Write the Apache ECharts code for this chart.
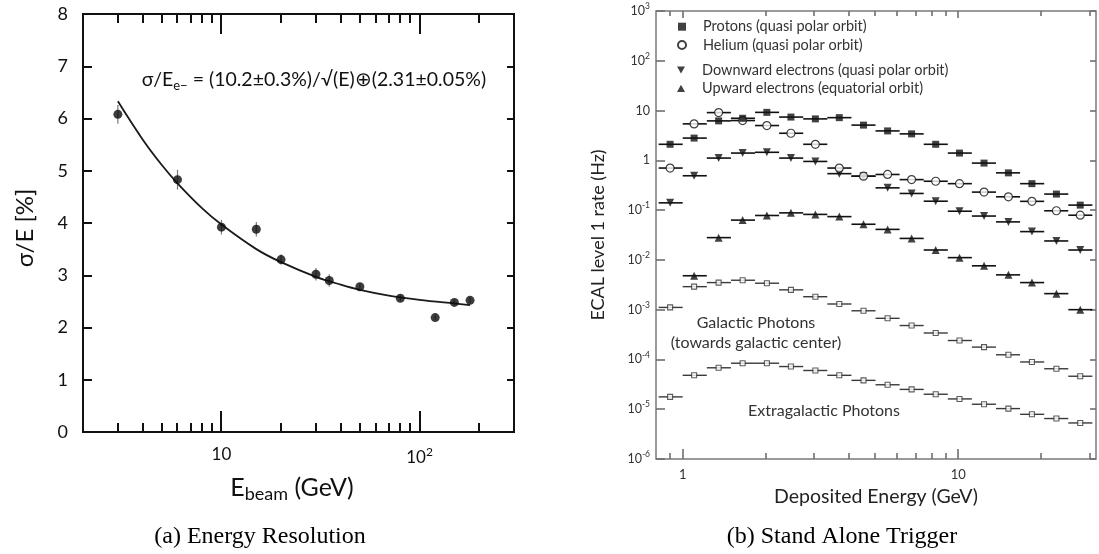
<!DOCTYPE html>
<html>
<head>
<meta charset="utf-8">
<script src="https://cdn.jsdelivr.net/npm/echarts@6/dist/echarts.min.js"></script>
<style>
  html, body { margin: 0; padding: 0; background: #fff; }
  #chart { width: 1099px; height: 554px; }
</style>
</head>
<body>
<div id="chart"></div>
<script>
// ---------- (a) Energy resolution ----------
const beamEnergy     = [3, 6, 10, 15, 20, 30, 35, 50, 80, 120, 150, 180];          // GeV
const resolution     = [6.08, 4.83, 3.92, 3.88, 3.30, 3.02, 2.90, 2.78, 2.56, 2.19, 2.48, 2.52]; // %
const resolutionErr  = [0.18, 0.19, 0.14, 0.14, 0.10, 0.12, 0.12, 0.06, 0.06, 0.05, 0.06, 0.06];
const fitEnergy      = [3, 4, 5, 6, 8, 10, 15, 20, 30, 40, 50, 70, 100, 150, 180];
const fitResolution  = [6.33, 5.60, 5.11, 4.76, 4.28, 3.97, 3.50, 3.25, 2.97, 2.82, 2.72, 2.61, 2.53, 2.46, 2.43];
const resMajorTicks  = [10, 100];
const resMinorTicks  = [3, 4, 5, 6, 7, 8, 9, 20, 30, 40, 50, 60, 70, 80, 90, 200];

// ---------- (b) Stand alone trigger ----------
const binEdges   = [0.818, 1.0, 1.223, 1.496, 1.83, 2.238, 2.737, 3.348, 4.095, 5.008, 6.125, 7.49, 9.16, 11.2, 13.7, 16.76, 20.5, 25.07, 30.66];
const binCenters = [0.9, 1.1, 1.35, 1.65, 2.02, 2.47, 3.03, 3.7, 4.53, 5.54, 6.77, 8.28, 10.1, 12.4, 15.2, 18.5, 22.7, 27.7];
const protons    = [2.1, 2.8, 6.2, 7.0, 9.2, 7.4, 6.8, 7.2, 5.1, 3.9, 3.4, 2.1, 1.4, 0.88, 0.56, 0.34, 0.21, 0.126];
const helium     = [0.70, 5.4, 9.1, 6.3, 5.0, 3.5, 2.1, 0.70, 0.48, 0.52, 0.41, 0.38, 0.34, 0.23, 0.185, 0.15, 0.097, 0.079];
const downElectrons = [0.14, 0.49, 1.11, 1.4, 1.45, 1.11, 0.95, 0.54, 0.48, 0.28, 0.216, 0.151, 0.095, 0.076, 0.058, 0.037, 0.024, 0.0158];
const upElectrons   = [null, 0.0048, 0.028, 0.063, 0.078, 0.088, 0.082, 0.074, 0.052, 0.041, 0.027, 0.0158, 0.0111, 0.0076, 0.005, 0.0035, 0.0021, 0.001];
const galacticPhotons = [1.11e-3, 2.9e-3, 3.5e-3, 3.9e-3, 3.4e-3, 2.5e-3, 1.82e-3, 1.3e-3, 9.5e-4, 6.7e-4, 4.8e-4, 3.4e-4, 2.4e-4, 1.77e-4, 1.24e-4, 8.9e-5, 6.5e-5, 4.6e-5];
const extragalacticPhotons = [1.77e-5, 4.8e-5, 6.8e-5, 8.4e-5, 8.4e-5, 7.2e-5, 6.0e-5, 4.8e-5, 3.8e-5, 3.1e-5, 2.5e-5, 2.0e-5, 1.61e-5, 1.26e-5, 1.03e-5, 7.9e-6, 6.5e-6, 5.3e-6];
const trigMajorTicks = [1, 10];
const trigMinorTicks = [0.9, 2, 3, 4, 5, 6, 7, 8, 9, 20, 30];

const NAME_P = 'Protons (quasi polar orbit)';
const NAME_HE = 'Helium (quasi polar orbit)';
const NAME_DOWN = 'Downward electrons (quasi polar orbit)';
const NAME_UP = 'Upward electrons (equatorial orbit)';

const SANS = 'Lato, "Noto Sans", sans-serif';
const SERIF = '"Liberation Serif", "DejaVu Serif", serif';
const DOWN_TRIANGLE = 'path://M0,0 L10,0 L5,9 Z';
const UP_TRIANGLE = 'path://M5,0 L10,9 L0,9 Z';

function isDecade(v) {
  const l = Math.log10(v);
  return Math.abs(l - Math.round(l)) < 1e-6;
}

// horizontal bin-width bars
function binBarSeries(values, color, width) {
  const rows = [];
  values.forEach((v, i) => { if (v != null) rows.push([binCenters[i], v, binEdges[i], binEdges[i + 1]]); });
  return {
    type: 'custom', xAxisIndex: 1, yAxisIndex: 2, silent: true, z: 3,
    data: rows, encode: { x: 0, y: 1 },
    renderItem(params, api) {
      const y = api.value(1);
      const a = api.coord([api.value(2), y]);
      const b = api.coord([api.value(3), y]);
      return { type: 'line', shape: { x1: a[0], y1: a[1], x2: b[0], y2: b[1] }, style: { stroke: color, lineWidth: width } };
    }
  };
}

function points(values) {
  const out = [];
  values.forEach((v, i) => { if (v != null) out.push([binCenters[i], v]); });
  return out;
}

const supRich = (base, sup, color) => ({
  b: { fontSize: base, fontFamily: SANS, color: color },
  s: { fontSize: sup, fontFamily: SANS, color: color, padding: [0, 0, Math.round(base * 0.7), 0] }
});

const legendCommon = {
  orient: 'vertical', left: 677, padding: 0,
  itemWidth: 8, itemHeight: 8, itemGap: 2.3, selectedMode: false,
  textStyle: { fontSize: 14.5, lineHeight: 16, color: '#333', fontFamily: SANS, padding: [0, 0, 0, 12] }
};

const textGraphics = [
  // (a) formula and axis titles
  { type: 'text', x: 314, y: 80, silent: true, style: {
      text: '{n|σ/E}{sub|e−}{n| = (10.2±0.3%)/√(E)⊕(2.31±0.05%)}',
      align: 'center', verticalAlign: 'middle',
      rich: {
        n: { fontSize: 19.5, fontFamily: SANS, fill: '#111', color: '#111' },
        sub: { fontSize: 13, fontFamily: SANS, fill: '#111', color: '#111', padding: [11, 0, 0, 0] }
      } } },
  { type: 'text', x: 25, y: 228, rotation: Math.PI / 2, silent: true, style: {
      text: 'σ/E [%]', fontSize: 24, fontFamily: SANS, fill: '#111', align: 'center', verticalAlign: 'middle' } },
  { type: 'text', x: 292, y: 488, silent: true, style: {
      text: '{a|E}{s|beam}{a| (GeV)}', align: 'center', verticalAlign: 'middle',
      rich: {
        a: { fontSize: 25, fontFamily: SANS, fill: '#111', color: '#111' },
        s: { fontSize: 18, fontFamily: SANS, fill: '#111', color: '#111', padding: [13, 0, 0, 0] }
      } } },
  { type: 'text', x: 260, y: 537, silent: true, style: {
      text: '(a) Energy Resolution', fontSize: 24, fontFamily: SERIF, fill: '#000', align: 'center', verticalAlign: 'middle' } },

  // (b) annotations and axis titles
  { type: 'text', x: 756, y: 323, silent: true, style: {
      text: 'Galactic Photons', fontSize: 16, fontFamily: SANS, fill: '#333', align: 'center', verticalAlign: 'middle' } },
  { type: 'text', x: 756, y: 343, silent: true, style: {
      text: '(towards galactic center)', fontSize: 16, fontFamily: SANS, fill: '#333', align: 'center', verticalAlign: 'middle' } },
  { type: 'text', x: 824, y: 411, silent: true, style: {
      text: 'Extragalactic Photons', fontSize: 16, fontFamily: SANS, fill: '#333', align: 'center', verticalAlign: 'middle' } },
  { type: 'text', x: 598, y: 235, rotation: Math.PI / 2, silent: true, style: {
      text: 'ECAL level 1 rate (Hz)', fontSize: 18, fontFamily: SANS, fill: '#222', align: 'center', verticalAlign: 'middle' } },
  { type: 'text', x: 876, y: 497, silent: true, style: {
      text: 'Deposited Energy (GeV)', fontSize: 19.5, fontFamily: SANS, fill: '#222', align: 'center', verticalAlign: 'middle' } },
  { type: 'text', x: 842, y: 537, silent: true, style: {
      text: '(b) Stand Alone Trigger', fontSize: 24, fontFamily: SERIF, fill: '#000', align: 'center', verticalAlign: 'middle' } }
];

const option = {
  backgroundColor: '#ffffff',
  animation: false,
  grid: [
    { left: 83, top: 14, width: 431, height: 418, show: true, borderColor: '#111', borderWidth: 2,
      backgroundColor: 'transparent', containLabel: false, outerBoundsMode: 'none' },
    { left: 656, top: 11, width: 440, height: 448, show: true, borderColor: '#7a7a7a', borderWidth: 1.5,
      backgroundColor: 'transparent', containLabel: false, outerBoundsMode: 'none' }
  ],
  xAxis: [
    { gridIndex: 0, type: 'log', logBase: 10, min: 2, max: 300,
      axisLine: { show: false }, axisTick: { show: false }, minorTick: { show: false }, splitLine: { show: false },
      axisLabel: {
        margin: 14, color: '#111', fontSize: 17, fontFamily: SANS,
        formatter: v => {
          if (!isDecade(v)) return '';
          const e = Math.round(Math.log10(v));
          return e === 1 ? '{b|10}' : '{b|10}{s|' + e + '}';
        },
        rich: supRich(17, 12, '#111')
      } },
    { gridIndex: 1, type: 'log', logBase: 10, min: 0.8, max: 31.6,
      axisLine: { show: false }, axisTick: { show: false }, minorTick: { show: false }, splitLine: { show: false },
      axisLabel: {
        margin: 9, color: '#333', fontSize: 13, fontFamily: SANS,
        formatter: v => {
          if (!isDecade(v)) return '';
          const e = Math.round(Math.log10(v));
          return e === 0 ? '1' : (e === 1 ? '10' : '10^' + e);
        }
      } }
  ],
  yAxis: [
    { gridIndex: 0, type: 'value', min: 0, max: 8, interval: 1,
      axisLine: { show: false }, splitLine: { show: false },
      axisTick: { show: true, inside: true, length: 9, lineStyle: { color: '#111', width: 2 } },
      axisLabel: { margin: 15, color: '#111', fontSize: 18, fontFamily: SANS } },
    { gridIndex: 0, type: 'value', position: 'right', min: 0, max: 8, interval: 1,
      axisLine: { show: false }, splitLine: { show: false }, axisLabel: { show: false },
      axisTick: { show: true, inside: true, length: 7, lineStyle: { color: '#111', width: 2 } } },
    { gridIndex: 1, type: 'log', logBase: 10, min: 1e-6, max: 1e3, splitNumber: 9,
      axisLine: { show: false }, splitLine: { show: false },
      axisTick: { show: true, inside: true, length: 9, lineStyle: { color: '#6e6e6e', width: 1.6 } },
      axisLabel: {
        margin: 6, color: '#333', fontSize: 12, fontFamily: SANS,
        formatter: v => {
          if (!isDecade(v)) return '';
          const e = Math.round(Math.log10(v));
          if (e === 0) return '{b|1}';
          if (e === 1) return '{b|10}';
          return '{b|10}{s|' + (e < 0 ? '-' + (-e) : e) + '}';
        },
        rich: supRich(12.5, 8.5, '#333')
      } },
    { gridIndex: 1, type: 'log', logBase: 10, min: 1e-6, max: 1e3, splitNumber: 9, position: 'right',
      axisLine: { show: false }, splitLine: { show: false }, axisLabel: { show: false },
      axisTick: { show: true, inside: true, length: 6, lineStyle: { color: '#6e6e6e', width: 1.6 } } }
  ],
  legend: [
    Object.assign({}, legendCommon, { top: 18.7, data: [
      { name: NAME_P, icon: 'rect' },
      { name: NAME_HE, icon: 'circle' }
    ] }),
    Object.assign({}, legendCommon, { top: 62, data: [
      { name: NAME_DOWN, icon: DOWN_TRIANGLE },
      { name: NAME_UP, icon: UP_TRIANGLE }
    ] })
  ],
  series: [
    // ----- (a) -----
    { type: 'custom', xAxisIndex: 0, yAxisIndex: 0, silent: true, z: 2,
      data: beamEnergy.map((e, i) => [e, resolution[i], resolutionErr[i]]),
      encode: { x: 0, y: 1 },
      renderItem(params, api) {
        const e = api.value(0), v = api.value(1), d = api.value(2);
        const a = api.coord([e, v - d]);
        const b = api.coord([e, v + d]);
        return { type: 'line', shape: { x1: a[0], y1: a[1], x2: b[0], y2: b[1] }, style: { stroke: '#777', lineWidth: 1.2 } };
      } },
    { type: 'line', xAxisIndex: 0, yAxisIndex: 0, z: 3, smooth: 0.35, showSymbol: false, silent: true,
      data: fitEnergy.map((e, i) => [e, fitResolution[i]]),
      lineStyle: { color: '#1a1a1a', width: 1.8 } },
    { type: 'scatter', xAxisIndex: 0, yAxisIndex: 0, z: 4, symbol: 'circle', symbolSize: 9, silent: true,
      data: beamEnergy.map((e, i) => [e, resolution[i]]),
      itemStyle: { color: '#0d0d0d' } },

    // ----- (b) -----
    binBarSeries(extragalacticPhotons, '#3a3a3a', 1.4),
    binBarSeries(galacticPhotons, '#3a3a3a', 1.4),
    binBarSeries(upElectrons, '#111', 1.6),
    binBarSeries(downElectrons, '#111', 1.6),
    binBarSeries(helium, '#111', 1.6),
    binBarSeries(protons, '#111', 1.6),
    { name: 'Extragalactic Photons', type: 'scatter', xAxisIndex: 1, yAxisIndex: 2, z: 4, silent: true,
      symbol: 'rect', symbolSize: 5, data: points(extragalacticPhotons),
      itemStyle: { color: '#fff', borderColor: '#333', borderWidth: 1.1 } },
    { name: 'Galactic Photons', type: 'scatter', xAxisIndex: 1, yAxisIndex: 2, z: 4, silent: true,
      symbol: 'rect', symbolSize: 5, data: points(galacticPhotons),
      itemStyle: { color: '#fff', borderColor: '#333', borderWidth: 1.1 } },
    { name: NAME_UP, type: 'scatter', xAxisIndex: 1, yAxisIndex: 2, z: 4, silent: true,
      symbol: UP_TRIANGLE, symbolSize: 8, data: points(upElectrons),
      itemStyle: { color: '#111' } },
    { name: NAME_DOWN, type: 'scatter', xAxisIndex: 1, yAxisIndex: 2, z: 4, silent: true,
      symbol: DOWN_TRIANGLE, symbolSize: 8, data: points(downElectrons),
      itemStyle: { color: '#111' } },
    { name: NAME_HE, type: 'scatter', xAxisIndex: 1, yAxisIndex: 2, z: 4, silent: true,
      symbol: 'circle', symbolSize: 8, data: points(helium),
      itemStyle: { color: '#fff', borderColor: '#111', borderWidth: 1.2 } },
    { name: NAME_P, type: 'scatter', xAxisIndex: 1, yAxisIndex: 2, z: 5, silent: true,
      symbol: 'rect', symbolSize: 7, data: points(protons),
      itemStyle: { color: '#111' } }
  ],
  graphic: textGraphics
};

const chart = echarts.init(document.getElementById('chart'), null, { renderer: 'canvas' });
chart.setOption(option);

// Log-axis tick marks (decades and intermediate values) on the bottom and top
// frame edges, positioned through each axis' own scale.
function logTickMarks(xIdx, yIdx, yLow, yHigh, values, len, color, width) {
  const bottom = chart.convertToPixel({ yAxisIndex: yIdx }, yLow);
  const top = chart.convertToPixel({ yAxisIndex: yIdx }, yHigh);
  const marks = [];
  values.forEach(v => {
    const x = Math.round(chart.convertToPixel({ xAxisIndex: xIdx }, v));
    const style = { stroke: color, lineWidth: width };
    marks.push({ type: 'line', silent: true, z: 50, shape: { x1: x, y1: bottom, x2: x, y2: bottom - len[0] }, style });
    marks.push({ type: 'line', silent: true, z: 50, shape: { x1: x, y1: top, x2: x, y2: top + len[1] }, style });
  });
  return marks;
}

const tickGraphics = [].concat(
  logTickMarks(0, 0, 0, 8, resMajorTicks, [21, 20], '#111', 2),
  logTickMarks(0, 0, 0, 8, resMinorTicks, [9, 9], '#111', 2),
  logTickMarks(1, 2, 1e-6, 1e3, trigMajorTicks, [10, 7], '#6e6e6e', 1.6),
  logTickMarks(1, 2, 1e-6, 1e3, trigMinorTicks, [6, 5], '#6e6e6e', 1.6)
);

chart.setOption({ graphic: textGraphics.concat(tickGraphics) });
</script>
</body>
</html>
